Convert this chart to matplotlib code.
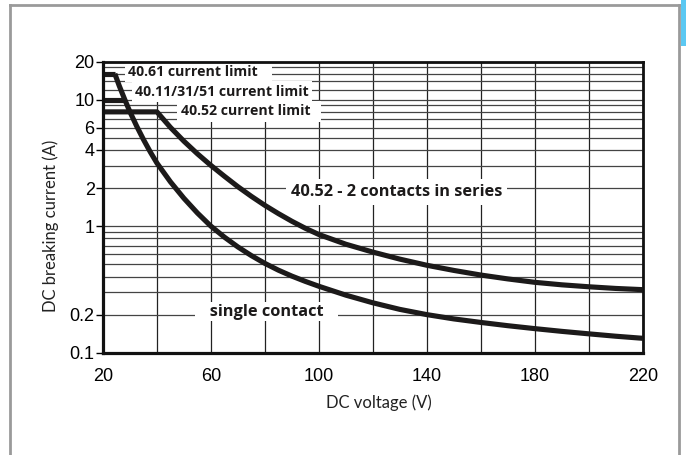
import matplotlib
matplotlib.use("Agg")
import matplotlib.pyplot as plt
from matplotlib.lines import Line2D
from matplotlib.patches import Rectangle

# values
VoltSingle = [24.4, 26, 28, 30, 32.5, 35, 37.5, 40, 45, 50, 55, 60, 65, 70, 75,
              80, 85, 90, 95, 100, 110, 120, 130, 140, 150, 160, 170, 180,
              190, 200, 210, 220]
AmpSingle = [16, 12.9, 10.1, 8.0, 6.16, 4.84, 3.87, 3.15, 2.24, 1.66, 1.27, 1.0,
             0.819, 0.685, 0.585, 0.508, 0.449, 0.403, 0.366, 0.335, 0.285, 0.248,
             0.220, 0.200, 0.185, 0.1735, 0.1635, 0.155, 0.1475, 0.141, 0.135, 0.130]

VoltSeries = [20, 40, 45, 50, 55, 60, 65, 70, 75, 80, 85, 90, 95, 100, 110, 120,
              130, 140, 150, 160, 170, 180, 190, 200, 210, 220]
AmpSeries = [8, 8, 6.03, 4.69, 3.73, 3.02, 2.48, 2.05, 1.72, 1.46, 1.257, 1.093,
             0.962, 0.859, 0.720, 0.624, 0.549, 0.491, 0.447, 0.411, 0.383, 0.360,
             0.344, 0.332, 0.322, 0.315]

Volt4061 = [20, 24.4]
Amp4061 = [16, 16]
Volt4011 = [20, 27.8]
Amp4011 = [10, 10]

XTicks = [20, 60, 100, 140, 180, 220]
XGrid = [40, 80, 120, 160, 200]
YTicks = [0.1, 0.2, 1, 2, 4, 6, 10, 20]
YTickLabels = ["0.1", "0.2", "1", "2", "4", "6", "10", "20"]
YGrid = [0.3, 0.4, 0.5, 0.6, 0.7, 0.8, 0.9, 3, 5, 7, 8, 9, 12, 14, 16, 18]

# text, x (V), y (A), horizontal alignment, font size, box pad
Labels = [
    ("40.61 current limit   ", 29.3, 16.6, "left", 10.2, 0.25),
    ("40.11/31/51 current limit", 31.9, 11.5, "left", 10.2, 0.25),
    ("40.52 current limit  ", 48.9, 8.06, "left", 10.2, 0.25),
    ("40.52 - 2 contacts in series", 128.8, 1.87, "center", 11.8, 0.3),
    ("   single contact   ", 80.6, 0.211, "center", 11.8, 0.1),
]

Fig = plt.figure(figsize=(6.86, 4.55), dpi=100)
Ax = Fig.add_axes([0.1501, 0.2248, 0.7868, 0.64])

Ax.set_yscale("log")
Ax.set_xlim(20, 220)
Ax.set_ylim(0.1, 20)

Ax.set_xticks(XTicks)
Ax.set_xticklabels([str(v) for v in XTicks])
Ax.set_xticks(XGrid, minor=True)
Ax.set_yticks(YTicks)
Ax.set_yticklabels(YTickLabels)
Ax.set_yticks(YGrid, minor=True)
Ax.yaxis.set_minor_formatter(plt.NullFormatter())

Ax.tick_params(axis="x", which="both", length=0, pad=11, labelsize=13)
Ax.tick_params(axis="y", which="major", length=5, width=1, pad=1, labelsize=13)
Ax.tick_params(axis="y", which="minor", length=0)
for Lbl in Ax.get_xticklabels() + Ax.get_yticklabels():
    Lbl.set_fontfamily("Liberation Sans")

Ax.grid(True, axis="x", which="both", color="#222222", linewidth=0.9, zorder=1)
Ax.grid(True, axis="y", which="both", color="#444444", linewidth=0.9, zorder=1)
Ax.set_axisbelow(True)

for Side in ["left", "bottom"]:
    Ax.spines[Side].set_linewidth(2.3)
for Side in ["top", "right"]:
    Ax.spines[Side].set_linewidth(2.0)
for Spine in Ax.spines.values():
    Spine.set_color("#111111")
    Spine.set_zorder(6)

CurveStyle = dict(color="#1c1a1a", linewidth=3.7, solid_capstyle="butt",
                  solid_joinstyle="round", zorder=5, clip_on=False)
Ax.plot(VoltSingle, AmpSingle, **CurveStyle)
Ax.plot(VoltSeries, AmpSeries, **CurveStyle)
Ax.plot(Volt4061, Amp4061, **CurveStyle)
Ax.plot(Volt4011, Amp4011, **CurveStyle)

for Text, X, Y, Ha, Size, Pad in Labels:
    Ax.text(X, Y, Text, ha=Ha, va="center", fontsize=Size, fontweight="bold",
            family="Open Sans", color="#1c1a1a", zorder=4,
            bbox=dict(boxstyle="square,pad=%s" % Pad, facecolor="white", edgecolor="none"))

Ax.set_xlabel("DC voltage (V)", fontsize=12, family="Lato", color="#222222")
Ax.xaxis.set_label_coords(0.511, -0.173)
Ax.xaxis.label.set_va("center")
Ax.set_ylabel("DC breaking current (A)", fontsize=12, family="Lato", color="#222222")
Ax.yaxis.set_label_coords(-0.097, 0.435)
Ax.yaxis.label.set_va("center")

# outer grey frame and blue tab
FrameStyle = dict(color="#9a9a9a", linewidth=2.0, transform=Fig.transFigure)
Fig.add_artist(Line2D([10 / 686, 10 / 686], [0, 1 - 5 / 455], **FrameStyle))
Fig.add_artist(Line2D([10 / 686, 679 / 686], [1 - 5 / 455, 1 - 5 / 455], **FrameStyle))
Fig.add_artist(Line2D([679 / 686, 679 / 686], [0, 1 - 5 / 455], **FrameStyle))
Fig.add_artist(Rectangle((681 / 686, 1 - 46 / 455), 5 / 686, 46 / 455,
                         transform=Fig.transFigure, facecolor="#5bc8f2", edgecolor="none"))

Fig.savefig("out.png", dpi=100)
